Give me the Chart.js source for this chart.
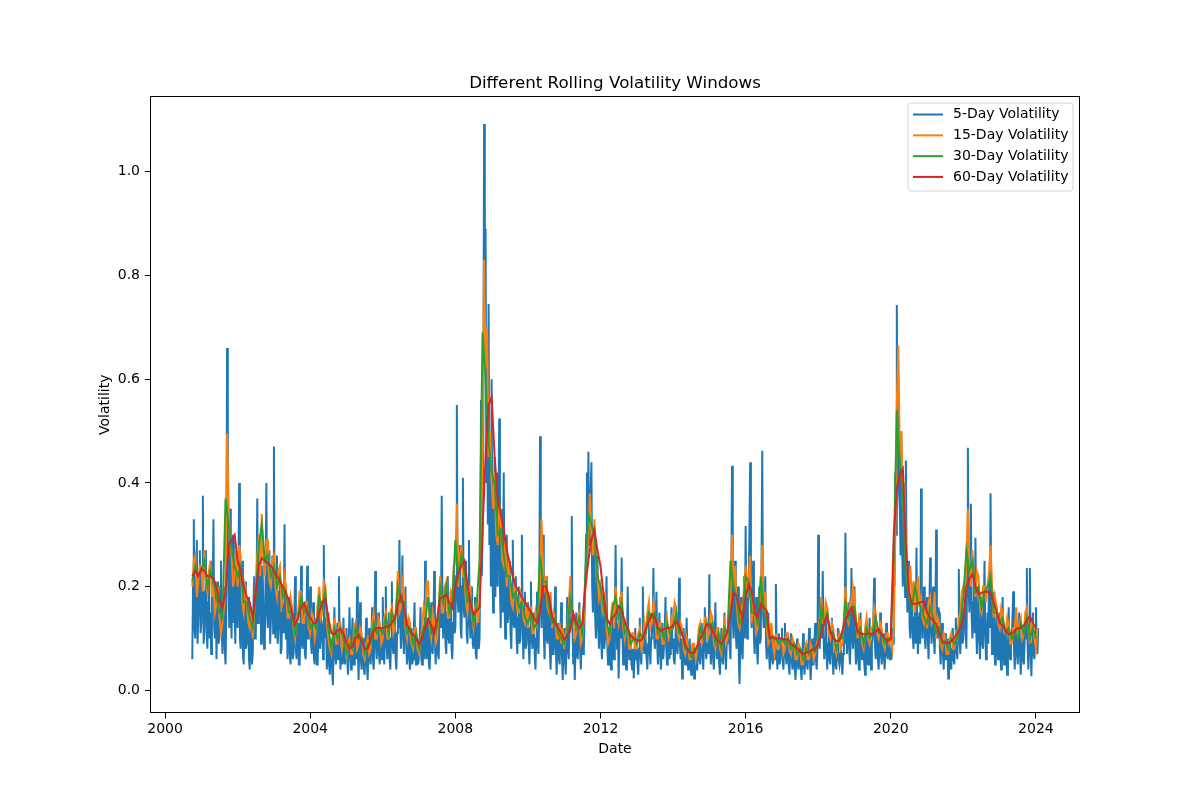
<!DOCTYPE html>
<html>
<head>
<meta charset="utf-8">
<script src="https://cdn.jsdelivr.net/npm/chart.js"></script>
<style>
  html, body { margin: 0; padding: 0; background: #fff; }
  #wrap { width: 1200px; height: 800px; }
</style>
</head>
<body>
<div id="wrap"><canvas id="c" width="1200" height="800"></canvas></div>
<script>
// ---------------- DATA ----------------
// series start (decimal year) and sampling per year
const startYear = 2000.75;
const perYear5 = 48;   // 5-day series: weekly readings
const perYear15 = 24;  // 15-day series: half-monthly readings
const perYearM = 12;   // 30/60-day series: monthly readings

const xTicks = [2000, 2004, 2008, 2012, 2016, 2020, 2024];
const yTicks = [0.0, 0.2, 0.4, 0.6, 0.8, 1.0];
const seriesLabels = ['5-Day Volatility', '15-Day Volatility', '30-Day Volatility', '60-Day Volatility'];

const vol5 = [
  // 2000 (Oct-Dec)
  .06,.20,.33,.12,.10,.24,.29,.09,.14,.22,.27,.11,
  // 2001
  .13,.22,.375,.09,.11,.19,.27,.12, .08,.17,.23,.10,.15,.07,.25,.18, .33,.12,.10,.21,.06,.15,.21,.09,
  .12,.20,.25,.11,.07,.16,.20,.08, .05,.14,.66,.28,.20,.12,.35,.17, .10,.24,.30,.13,.15,.09,.26,.18,
  // 2002
  .12,.21,.40,.10,.08,.19,.25,.07, .05,.14,.21,.08,.09,.16,.18,.06, .04,.12,.15,.05,.07,.17,.22,.10,
  .11,.19,.37,.13,.14,.22,.29,.09, .12,.24,.16,.08,.10,.21,.40,.15, .12,.20,.27,.09,.09,.18,.26,.11,
  // 2003
  .47,.16,.10,.21,.26,.09,.12,.19, .22,.07,.08,.15,.18,.11,.32,.13, .10,.17,.06,.12,.18,.07,.05,.13,
  .15,.06,.07,.14,.22,.08,.06,.12, .13,.05,.05,.11,.24,.09,.08,.14, .17,.07,.06,.12,.24,.10,.10,.16,
  // 2004
  .20,.09,.07,.13,.17,.06,.05,.11, .14,.05,.06,.12,.19,.08,.08,.13, .12,.06,.28,.12,.10,.14,.04,.09,
  .15,.05,.03,.09,.10,.04,.01,.08, .16,.07,.05,.10,.13,.06,.22,.09, .04,.08,.11,.05,.14,.07,.05,.10,
  // 2005
  .12,.06,.03,.09,.16,.07,.04,.10, .14,.05,.05,.11,.13,.06,.20,.08, .02,.09,.17,.06,.04,.10,.10,.04,
  .03,.08,.14,.05,.02,.07,.12,.06, .05,.11,.16,.06,.04,.09,.23,.10, .06,.12,.15,.07,.05,.10,.12,.06,
  // 2006
  .18,.08,.05,.12,.20,.09,.06,.13, .15,.06,.04,.10,.21,.09,.07,.14, .13,.06,.04,.11,.18,.12,.29,.13,
  .08,.15,.26,.10,.07,.14,.20,.09, .05,.10,.14,.06,.04,.09,.12,.05, .06,.11,.17,.07,.05,.09,.10,.05,
  // 2007
  .07,.11,.16,.06,.05,.09,.12,.06, .25,.10,.06,.11,.14,.05,.04,.09, .17,.08,.07,.13,.23,.09,.05,.11,
  .12,.07,.06,.14,.21,.12,.375,.15, .10,.17,.20,.09,.07,.15,.22,.10, .09,.14,.19,.08,.06,.13,.24,.11,
  // 2008
  .12,.22,.55,.18,.15,.24,.28,.12, .10,.20,.41,.16,.14,.21,.25,.11, .09,.17,.29,.13,.10,.16,.20,.09,
  .08,.14,.18,.07,.06,.11,.15,.08, .10,.25,.56,.22,.30,.48,1.092,.62, .89,.40,.55,.32,.745,.28,.40,.20,
  // 2009
  .60,.25,.15,.30,.45,.18,.42,.22, .20,.33,.524,.20,.12,.24,.35,.15, .42,.18,.10,.21,.30,.13,.14,.23,
  .25,.11,.08,.16,.29,.13,.12,.19, .22,.10,.07,.14,.20,.09,.10,.17, .30,.12,.06,.13,.19,.08,.09,.15,
  // 2010
  .17,.09,.05,.12,.21,.10,.08,.14, .15,.07,.04,.10,.19,.09,.07,.15, .49,.20,.12,.25,.30,.11,.06,.14,
  .22,.10,.09,.16,.18,.08,.04,.10, .15,.07,.07,.13,.20,.08,.03,.09, .13,.06,.05,.11,.17,.07,.02,.08,
  // 2011
  .12,.06,.03,.09,.18,.08,.06,.12, .14,.20,.336,.12,.05,.10,.02,.08, .15,.07,.06,.12,.17,.08,.04,.10,
  .13,.07,.08,.15,.22,.30,.42,.25, .46,.28,.30,.38,.44,.20,.15,.24, .30,.14,.10,.18,.26,.12,.08,.15,
  // 2012
  .20,.09,.06,.13,.16,.08,.10,.15, .22,.09,.05,.11,.12,.06,.04,.09, .15,.07,.06,.14,.28,.12,.08,.13,
  .023,.09,.18,.10,.256,.11,.05,.10, .13,.06,.04,.09,.20,.08,.06,.11, .10,.05,.04,.08,.023,.07,.12,.06,
  // 2013
  .09,.05,.03,.08,.14,.07,.05,.10, .20,.09,.07,.12,.12,.06,.04,.09, .17,.08,.05,.10,.13,.11,.236,.10,
  .08,.13,.19,.09,.05,.10,.15,.07, .04,.08,.13,.06,.06,.11,.18,.08, .05,.09,.11,.06,.07,.12,.16,.08,
  // 2014
  .10,.06,.05,.09,.15,.08,.07,.12, .217,.09,.06,.10,.023,.07,.12,.06, .05,.09,.14,.07,.04,.08,.10,.05,
  .03,.07,.09,.05,.023,.06,.08,.04, .04,.08,.11,.06,.05,.09,.13,.07, .04,.10,.16,.08,.06,.09,.12,.07,
  // 2015
  .224,.09,.05,.10,.13,.06,.04,.09, .17,.08,.06,.11,.10,.05,.03,.08, .12,.06,.05,.10,.15,.07,.04,.09,
  .09,.12,.16,.08,.06,.20,.433,.14, .10,.17,.25,.11,.08,.14,.20,.06, .012,.10,.18,.08,.06,.13,.22,.10,
  // 2016
  .317,.14,.10,.18,.20,.30,.44,.16, .12,.19,.25,.10,.07,.13,.18,.08, .05,.11,.20,.09,.10,.24,.462,.15,
  .12,.18,.22,.09,.06,.11,.15,.07, .04,.08,.12,.06,.05,.09,.10,.06, .205,.08,.04,.09,.11,.05,.06,.10,
  // 2017
  .12,.06,.04,.08,.13,.07,.05,.09, .10,.05,.03,.07,.11,.06,.04,.08, .09,.04,.02,.06,.10,.05,.04,.08,
  .08,.04,.02,.06,.11,.05,.03,.07, .09,.05,.04,.08,.12,.06,.02,.06, .10,.05,.05,.09,.13,.06,.04,.08,
  // 2018
  .30,.12,.08,.14,.18,.10,.23,.11, .06,.10,.15,.07,.04,.09,.12,.06, .05,.10,.14,.07,.03,.07,.10,.05,
  .04,.08,.12,.06,.05,.07,.09,.05, .03,.07,.13,.09,.304,.12,.07,.11, .17,.08,.05,.10,.236,.11,.08,.12,
  // 2019
  .20,.09,.05,.10,.13,.06,.04,.09, .15,.07,.06,.10,.10,.05,.03,.08, .12,.06,.05,.09,.14,.07,.04,.09,
  .10,.14,.217,.09,.06,.10,.12,.06, .04,.09,.15,.07,.05,.08,.11,.06, .04,.09,.13,.07,.06,.09,.10,.06,
  // 2020
  .08,.06,.12,.09,.28,.20,.42,.30, .743,.45,.60,.38,.35,.26,.50,.28, .20,.33,.30,.18,.443,.22,.15,.24,
  .25,.12,.10,.18,.20,.11,.08,.14, .17,.09,.275,.12,.07,.13,.15,.09, .389,.16,.10,.19,.20,.10,.08,.14,
  // 2021
  .18,.10,.06,.14,.256,.12,.09,.15, .20,.10,.07,.14,.31,.13,.10,.16, .15,.08,.05,.10,.13,.07,.04,.09,
  .11,.06,.06,.10,.023,.06,.10,.05, .04,.08,.12,.06,.05,.09,.14,.08, .06,.12,.234,.10,.07,.12,.16,.09,
  // 2022
  .10,.15,.20,.12,.08,.22,.468,.20, .15,.25,.36,.14,.10,.17,.22,.11, .294,.12,.07,.14,.20,.10,.06,.12,
  .18,.09,.08,.15,.25,.11,.06,.10, .15,.09,.23,.12,.38,.15,.07,.12, .19,.09,.05,.11,.16,.08,.06,.11,
  // 2023
  .15,.07,.04,.09,.18,.08,.05,.10, .12,.06,.03,.08,.16,.07,.06,.11, .10,.14,.191,.08,.04,.09,.13,.07,
  .05,.10,.15,.07,.03,.08,.12,.06, .05,.09,.14,.10,.236,.09,.04,.10, .236,.08,.027,.09,.15,.07,.06,.11,
  // 2024 (Jan)
  .16,.09,.07,.12
];

const vol15 = [
  // 2000 (Oct-Dec)
  .20,.25,.26,.18,.21,.24,
  // 2001
  .24,.19,.27,.21,.19,.23,.25,.18,.20,.15,.17,.20,.14,.11,.13,.16,.20,.495,.36,.28,.26,.20,.22,.27,
  // 2002
  .20,.28,.26,.17,.15,.20,.18,.13,.12,.16,.10,.15,.20,.26,.30,.22,.34,.25,.22,.29,.29,.21,.20,.25,
  // 2003
  .26,.20,.18,.23,.24,.16,.17,.22,.20,.14,.14,.18,.16,.12,.10,.14,.15,.19,.19,.13,.13,.17,.17,.12,
  // 2004
  .11,.15,.14,.10,.12,.17,.20,.14,.15,.21,.20,.13,.10,.08,.07,.11,.14,.09,.09,.13,.13,.08,.10,.12,
  // 2005
  .06,.09,.10,.07,.07,.12,.13,.08,.09,.12,.11,.07,.06,.09,.10,.07,.08,.13,.15,.10,.10,.14,.13,.09,
  // 2006
  .10,.14,.15,.10,.10,.15,.16,.11,.12,.17,.23,.15,.16,.21,.19,.12,.10,.14,.13,.09,.08,.12,.12,.08,
  // 2007
  .07,.10,.12,.16,.14,.21,.21,.12,.10,.15,.13,.09,.10,.16,.22,.15,.15,.20,.21,.14,.14,.19,.18,.24,
  // 2008
  .25,.36,.20,.26,.28,.22,.22,.17,.15,.20,.20,.14,.12,.16,.17,.13,.17,.30,.45,.83,.62,.70,.45,.50,
  // 2009
  .40,.35,.42,.30,.28,.36,.33,.25,.24,.29,.20,.24,.22,.17,.16,.21,.20,.15,.15,.19,.18,.14,.13,.17,
  // 2010
  .12,.16,.16,.11,.11,.15,.13,.17,.18,.33,.24,.20,.22,.16,.15,.19,.12,.15,.14,.10,.10,.13,.09,.12,
  // 2011
  .08,.11,.12,.16,.22,.14,.13,.10,.11,.14,.15,.09,.10,.14,.20,.26,.30,.38,.30,.26,.33,.25,.22,.18,
  // 2012
  .20,.16,.15,.19,.12,.09,.10,.14,.17,.12,.20,.15,.13,.17,.19,.12,.10,.13,.12,.08,.08,.11,.11,.08,
  // 2013
  .08,.11,.12,.08,.09,.13,.11,.15,.17,.12,.13,.17,.15,.10,.10,.13,.13,.09,.09,.12,.14,.10,.11,.14,
  // 2014
  .13,.17,.16,.11,.10,.13,.12,.08,.07,.10,.08,.06,.06,.09,.09,.06,.08,.12,.13,.09,.10,.14,.14,.10,
  // 2015
  .11,.15,.14,.09,.08,.12,.12,.08,.07,.11,.13,.09,.10,.14,.18,.30,.20,.24,.17,.13,.12,.16,.15,.20,
  // 2016
  .24,.18,.22,.26,.13,.17,.15,.11,.12,.16,.19,.28,.15,.19,.12,.09,.10,.13,.09,.07,.11,.08,.08,.10,
  // 2017
  .10,.07,.08,.11,.11,.08,.07,.10,.09,.06,.06,.09,.08,.05,.05,.08,.09,.06,.06,.09,.08,.06,.07,.09,
  // 2018
  .10,.14,.18,.13,.13,.17,.16,.11,.10,.13,.12,.08,.07,.10,.11,.08,.09,.13,.20,.14,.13,.17,.16,.20,
  // 2019
  .18,.13,.10,.14,.13,.09,.08,.12,.14,.10,.09,.12,.12,.16,.15,.11,.10,.13,.12,.09,.08,.11,.11,.09,
  // 2020
  .10,.08,.12,.30,.55,.665,.45,.50,.35,.40,.28,.22,.20,.24,.17,.21,.15,.19,.22,.16,.18,.14,.13,.16,
  // 2021
  .12,.17,.18,.13,.14,.19,.10,.14,.13,.09,.08,.11,.10,.07,.07,.10,.11,.08,.08,.11,.10,.14,.15,.19,
  // 2022
  .20,.17,.25,.35,.24,.20,.27,.22,.18,.23,.22,.16,.15,.20,.20,.17,.20,.23,.28,.20,.14,.18,.16,.13,
  // 2023
  .12,.16,.15,.11,.11,.14,.13,.09,.09,.12,.12,.16,.10,.13,.14,.10,.11,.15,.16,.12,.09,.13,.13,.10,
  // 2024 (Jan)
  .08,.12
];

const vol30 = [
  0.21, 0.24, 0.22,
  0.23, 0.25, 0.20, 0.23, 0.21, 0.18, 0.15, 0.14, 0.37, 0.32, 0.27, 0.24,
  0.22, 0.24, 0.17, 0.17, 0.14, 0.12, 0.18, 0.28, 0.32, 0.25, 0.26, 0.22,
  0.24, 0.20, 0.22, 0.18, 0.19, 0.15, 0.15, 0.11, 0.14, 0.18, 0.15, 0.16,
  0.12, 0.13, 0.12, 0.18, 0.16, 0.19, 0.12, 0.08, 0.12, 0.10, 0.12, 0.10,
  0.07, 0.09, 0.08, 0.12, 0.10, 0.10, 0.07, 0.09, 0.09, 0.13, 0.11, 0.12,
  0.11, 0.14, 0.11, 0.15, 0.13, 0.20, 0.17, 0.17, 0.11, 0.12, 0.09, 0.11,
  0.08, 0.11, 0.13, 0.18, 0.11, 0.12, 0.12, 0.20, 0.17, 0.20, 0.15, 0.17,
  0.29, 0.22, 0.26, 0.23, 0.17, 0.18, 0.13, 0.16, 0.25, 0.69, 0.60, 0.48,
  0.42, 0.40, 0.30, 0.31, 0.26, 0.22, 0.22, 0.18, 0.19, 0.16, 0.17, 0.14,
  0.13, 0.15, 0.12, 0.13, 0.26, 0.21, 0.21, 0.16, 0.13, 0.14, 0.11, 0.10,
  0.09, 0.11, 0.18, 0.14, 0.12, 0.14, 0.11, 0.22, 0.34, 0.32, 0.30, 0.22,
  0.20, 0.16, 0.13, 0.11, 0.16, 0.18, 0.14, 0.17, 0.11, 0.12, 0.09, 0.10,
  0.09, 0.11, 0.10, 0.11, 0.15, 0.14, 0.15, 0.11, 0.12, 0.10, 0.13, 0.11,
  0.12, 0.15, 0.11, 0.11, 0.08, 0.08, 0.065, 0.08, 0.08, 0.12, 0.10, 0.13,
  0.12, 0.13, 0.09, 0.11, 0.08, 0.12, 0.11, 0.25, 0.20, 0.18, 0.13, 0.14,
  0.22, 0.21, 0.15, 0.15, 0.13, 0.22, 0.16, 0.13, 0.10, 0.10, 0.10, 0.09,
  0.10, 0.09, 0.10, 0.08, 0.09, 0.07, 0.08, 0.06, 0.08, 0.07, 0.08, 0.075,
  0.09, 0.16, 0.13, 0.15, 0.11, 0.11, 0.08, 0.10, 0.10, 0.17, 0.14, 0.16,
  0.16, 0.11, 0.12, 0.09, 0.12, 0.10, 0.11, 0.14, 0.11, 0.11, 0.09, 0.10,
  0.10, 0.26, 0.54, 0.44, 0.37, 0.22, 0.18, 0.16, 0.20, 0.17, 0.16, 0.14,
  0.13, 0.16, 0.14, 0.11, 0.12, 0.09, 0.095, 0.08, 0.10, 0.09, 0.10, 0.13,
  0.18, 0.27, 0.23, 0.25, 0.19, 0.20, 0.16, 0.19, 0.20, 0.22, 0.15, 0.15,
  0.13, 0.14, 0.11, 0.12, 0.10, 0.11, 0.10, 0.13, 0.11, 0.14, 0.10, 0.12,
  0.10
];

const vol60 = [
  0.22, 0.23, 0.22,
  0.235, 0.23, 0.22, 0.22, 0.215, 0.20, 0.17, 0.16, 0.19, 0.28, 0.29, 0.30,
  0.25, 0.23, 0.20, 0.18, 0.17, 0.14, 0.19, 0.24, 0.255, 0.25, 0.245, 0.24,
  0.23, 0.22, 0.21, 0.20, 0.185, 0.175, 0.15, 0.127, 0.14, 0.16, 0.168, 0.15,
  0.14, 0.13, 0.13, 0.15, 0.17, 0.176, 0.14, 0.11, 0.108, 0.115, 0.118, 0.11,
  0.09, 0.08, 0.085, 0.10, 0.108, 0.095, 0.08, 0.08, 0.10, 0.115, 0.12, 0.12,
  0.12, 0.122, 0.124, 0.13, 0.14, 0.165, 0.182, 0.16, 0.127, 0.115, 0.108, 0.10,
  0.089, 0.10, 0.12, 0.137, 0.125, 0.11, 0.14, 0.178, 0.18, 0.185, 0.17, 0.159,
  0.20, 0.226, 0.24, 0.25, 0.205, 0.166, 0.147, 0.153, 0.16, 0.31, 0.45, 0.55,
  0.565, 0.45, 0.37, 0.34, 0.31, 0.27, 0.245, 0.22, 0.20, 0.19, 0.18, 0.17,
  0.16, 0.15, 0.14, 0.13, 0.15, 0.20, 0.20, 0.18, 0.14, 0.13, 0.12, 0.11,
  0.098, 0.105, 0.114, 0.149, 0.13, 0.12, 0.13, 0.20, 0.25, 0.29, 0.31, 0.27,
  0.24, 0.185, 0.14, 0.128, 0.14, 0.147, 0.162, 0.155, 0.133, 0.12, 0.105, 0.10,
  0.097, 0.095, 0.10, 0.12, 0.133, 0.147, 0.14, 0.12, 0.114, 0.118, 0.12, 0.12,
  0.125, 0.133, 0.125, 0.108, 0.09, 0.075, 0.072, 0.072, 0.085, 0.10, 0.11, 0.125,
  0.128, 0.115, 0.104, 0.095, 0.09, 0.10, 0.114, 0.15, 0.188, 0.182, 0.16, 0.137,
  0.18, 0.205, 0.191, 0.15, 0.14, 0.166, 0.16, 0.153, 0.10, 0.104, 0.10, 0.10,
  0.10, 0.098, 0.098, 0.09, 0.085, 0.081, 0.075, 0.07, 0.072, 0.075, 0.078, 0.079,
  0.09, 0.108, 0.13, 0.143, 0.114, 0.10, 0.095, 0.095, 0.115, 0.133, 0.15, 0.159,
  0.14, 0.114, 0.11, 0.108, 0.108, 0.11, 0.108, 0.113, 0.118, 0.108, 0.10, 0.095,
  0.10, 0.30, 0.39, 0.415, 0.427, 0.28, 0.19, 0.166, 0.167, 0.168, 0.17, 0.172,
  0.15, 0.14, 0.135, 0.128, 0.11, 0.095, 0.092, 0.091, 0.095, 0.10, 0.11, 0.12,
  0.14, 0.20, 0.215, 0.224, 0.20, 0.185, 0.188, 0.19, 0.19, 0.188, 0.17, 0.153,
  0.13, 0.125, 0.115, 0.108, 0.11, 0.114, 0.12, 0.12, 0.125, 0.135, 0.143, 0.13,
  0.12
];

// ---------------- CHART ----------------
function toPoints(vals, perYear) {
  return vals.map((v, i) => ({ x: startYear + i / perYear, y: v }));
}

Chart.defaults.font.family = '"DejaVu Sans", sans-serif';
Chart.defaults.font.size = 14;
Chart.defaults.color = '#000';

const frame = {
  id: 'frame',
  afterDatasetsDraw(chart) {
    const { ctx, chartArea: a } = chart;
    ctx.save();
    ctx.strokeStyle = '#000';
    ctx.lineWidth = 1;
    ctx.strokeRect(Math.round(a.left) + 0.5, Math.round(a.top) + 0.5,
                   Math.round(a.right - a.left) - 1, Math.round(a.bottom - a.top) - 1);
    ctx.restore();
  }
};

const boxLegend = {
  id: 'boxLegend',
  afterDraw(chart) {
    const { ctx, chartArea: a } = chart;
    const w = 165, h = 88;
    const x0 = a.right - 7 - w, y0 = a.top + 7;
    ctx.save();
    ctx.beginPath();
    const r = 3;
    ctx.moveTo(x0 + r, y0);
    ctx.lineTo(x0 + w - r, y0);
    ctx.arcTo(x0 + w, y0, x0 + w, y0 + r, r);
    ctx.lineTo(x0 + w, y0 + h - r);
    ctx.arcTo(x0 + w, y0 + h, x0 + w - r, y0 + h, r);
    ctx.lineTo(x0 + r, y0 + h);
    ctx.arcTo(x0, y0 + h, x0, y0 + h - r, r);
    ctx.lineTo(x0, y0 + r);
    ctx.arcTo(x0, y0, x0 + r, y0, r);
    ctx.closePath();
    ctx.fillStyle = 'rgba(255,255,255,0.8)';
    ctx.fill();
    ctx.strokeStyle = '#d6d6d6';
    ctx.lineWidth = 1;
    ctx.stroke();
    ctx.font = '14px "DejaVu Sans", sans-serif';
    ctx.textBaseline = 'middle';
    ctx.textAlign = 'left';
    chart.data.datasets.forEach((ds, i) => {
      const cy = y0 + 11.5 + i * 20.8;
      ctx.strokeStyle = ds.borderColor;
      ctx.lineWidth = 2;
      ctx.beginPath();
      ctx.moveTo(x0 + 5, cy);
      ctx.lineTo(x0 + 35, cy);
      ctx.stroke();
      ctx.fillStyle = '#000';
      ctx.fillText(ds.label, x0 + 45, cy);
    });
    ctx.restore();
  }
};

const colors = ['#1f77b4', '#ff7f0e', '#2ca02c', '#d62728'];
const seriesData = [toPoints(vol5, perYear5), toPoints(vol15, perYear15), toPoints(vol30, perYearM), toPoints(vol60, perYearM)];

new Chart(document.getElementById('c'), {
  type: 'line',
  data: {
    datasets: seriesData.map((d, i) => ({
      label: seriesLabels[i],
      data: d,
      borderColor: colors[i],
      backgroundColor: colors[i],
      borderWidth: 2,
      pointRadius: 0,
      tension: 0,
      fill: false,
      order: 4 - i
    }))
  },
  options: {
    responsive: false,
    animation: false,
    layout: { padding: { left: 93, right: 120, top: 74, bottom: 42 } },
    plugins: {
      legend: { display: false },
      tooltip: { enabled: false },
      title: {
        display: true,
        text: 'Different Rolling Volatility Windows',
        fullSize: false,
        font: { size: 16.7, weight: 'normal' },
        color: '#000',
        padding: { top: 0, bottom: 2 }
      }
    },
    scales: {
      x: {
        type: 'linear',
        min: 1999.585,
        max: 2025.215,
        bounds: 'data',
        afterBuildTicks: (s) => { s.ticks = xTicks.map(v => ({ value: v })); },
        ticks: { callback: (v) => String(v), padding: 3, maxRotation: 0, autoSkip: false, color: '#000' },
        grid: { drawOnChartArea: false, drawTicks: true, tickLength: 5, color: '#000' },
        border: { display: false },
        title: { display: true, text: 'Date', color: '#000', padding: { top: 0, bottom: 0 } }
      },
      y: {
        type: 'linear',
        min: -0.0445,
        max: 1.146,
        bounds: 'data',
        afterBuildTicks: (s) => { s.ticks = yTicks.map(v => ({ value: v })); },
        afterFit: (s) => { s.width = 57; },
        ticks: { callback: (v) => Number(v).toFixed(1), padding: 5, autoSkip: false, color: '#000' },
        grid: { drawOnChartArea: false, drawTicks: true, tickLength: 5, color: '#000' },
        border: { display: false },
        title: { display: true, text: 'Volatility', color: '#000', padding: { top: 4, bottom: 4 } }
      }
    }
  },
  plugins: [frame, boxLegend]
});
</script>
</body>
</html>
